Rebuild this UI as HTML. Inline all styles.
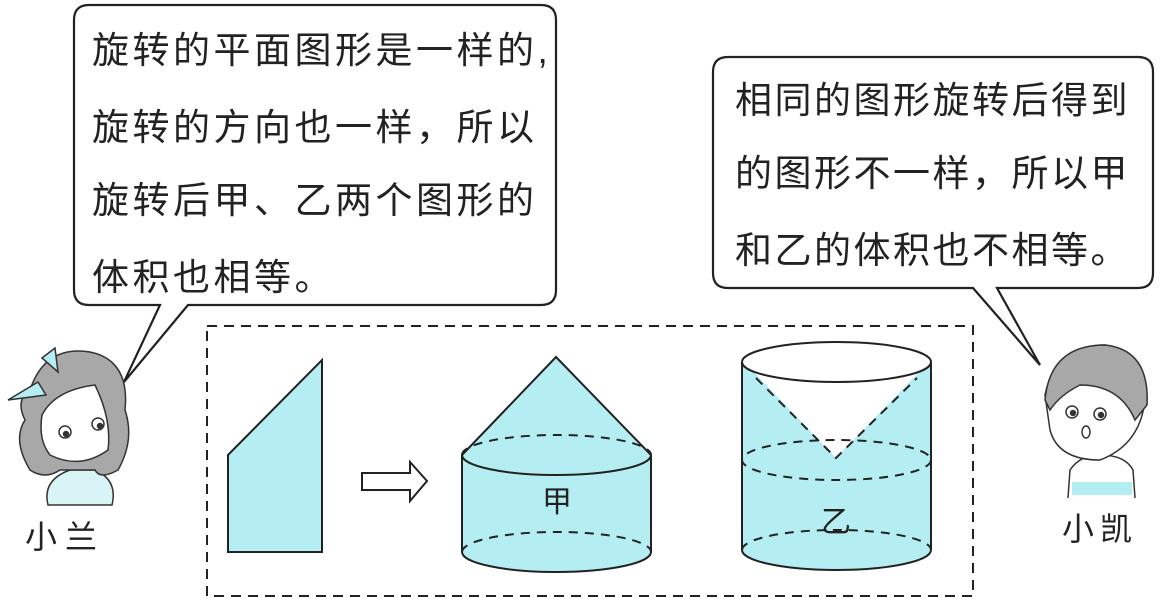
<!DOCTYPE html>
<html><head><meta charset="utf-8"><style>
html,body{margin:0;padding:0;background:#fff;}
svg{display:block;}
text{font-family:"Liberation Sans","Noto Sans CJK SC",sans-serif;fill:#222;}
</style></head><body>
<svg width="1162" height="602" viewBox="0 0 1162 602" xmlns="http://www.w3.org/2000/svg">
<!-- left bubble -->
<path d="M89,5 H541 Q556,5 556,20 V290 Q556,305 541,305 H188 L124,382 L160,305 H89 Q74,305 74,290 V20 Q74,5 89,5 Z" fill="#fff" stroke="#222" stroke-width="2.2"/>
<g font-size="37" letter-spacing="3.5">
<text x="92" y="63">旋转的平面图形是一样的,</text>
<text x="92" y="140">旋转的方向也一样，所以</text>
<text x="92" y="213">旋转后甲、乙两个图形的</text>
<text x="92" y="290">体积也相等。</text>
</g>
<!-- right bubble -->
<path d="M728,57 H1138 Q1153,57 1153,72 V273 Q1153,288 1138,288 H997 L1040,365 L973,288 H728 Q713,288 713,273 V72 Q713,57 728,57 Z" fill="#fff" stroke="#222" stroke-width="2.2"/>
<g font-size="37" letter-spacing="2.5">
<text x="735" y="113">相同的图形旋转后得到</text>
<text x="735" y="186">的图形不一样，所以甲</text>
<text x="735" y="263">和乙的体积也不相等。</text>
</g>
<!-- dashed box -->
<rect x="207" y="326" width="766" height="270" fill="none" stroke="#222" stroke-width="2" stroke-dasharray="10,7"/>
<!-- trapezoid -->
<polygon points="228,455 322,360 322,552 228,552" fill="#b5eef2" stroke="#222" stroke-width="2"/>
<!-- arrow -->
<polygon points="362,473 410,473 410,462 427,481 410,501 410,490 362,490" fill="#fff" stroke="#222" stroke-width="2"/>
<!-- jia -->
<path d="M462,455 L556,357 L651,455 V552 A94.5,20 0 0 1 462,552 Z" fill="#b5eef2" stroke="#222" stroke-width="2"/>
<path d="M462,455 A94.5,20 0 0 0 651,455" fill="none" stroke="#222" stroke-width="2"/>
<path d="M462,455 A94.5,20 0 0 1 651,455" fill="none" stroke="#222" stroke-width="2" stroke-dasharray="9,7"/>
<path d="M462,552 A94.5,20 0 0 1 651,552" fill="none" stroke="#222" stroke-width="2" stroke-dasharray="9,7"/>
<text x="557" y="512" font-size="30" text-anchor="middle">甲</text>
<!-- yi -->
<path d="M742,362 V550 A94.5,20 0 0 0 931,550 V362 A94.5,20 0 0 1 742,362 Z" fill="#b5eef2" stroke="#222" stroke-width="2"/>
<path d="M752,370 L836,458 L921,370 A94.5,20 0 0 1 752,370 Z" fill="#fff"/>
<ellipse cx="836.5" cy="362" rx="94.5" ry="20" fill="#fff" stroke="#222" stroke-width="2"/>
<path d="M756,378 L836,458 L917,378" fill="none" stroke="#222" stroke-width="2" stroke-dasharray="9,7"/>
<ellipse cx="836.5" cy="460" rx="94.5" ry="20" fill="none" stroke="#222" stroke-width="2" stroke-dasharray="9,7"/>
<path d="M742,550 A94.5,20 0 0 1 931,550" fill="none" stroke="#222" stroke-width="2" stroke-dasharray="9,7"/>
<text x="836" y="532" font-size="30" text-anchor="middle">乙</text>
<!-- girl -->
<g stroke="#333" stroke-width="1.5">
<path d="M48,505 Q42,480 70,470 L95,470 Q118,480 112,505 Z" fill="#d8f4f6"/>
<path d="M30,390 Q45,345 90,352 Q130,360 125,410 Q135,440 118,470 Q100,480 95,470 L60,470 Q45,480 30,470 Q12,440 25,420 Q15,400 30,390 Z" fill="#a8a8a8"/>
<path d="M42,415 Q55,390 95,385 Q112,420 108,450 Q80,470 50,455 Q38,440 42,415 Z" fill="#fff"/>
<path d="M8,400 L38,382 L46,395 Z M42,358 L55,348 L58,372 Z" fill="#b5eef2"/>
<circle cx="65" cy="432" r="6" fill="#fff"/><circle cx="98" cy="424" r="6" fill="#fff"/>
<circle cx="66" cy="434" r="2.5" fill="#333"/><circle cx="100" cy="426" r="2.5" fill="#333"/>
</g>
<text x="65" y="548" font-size="32" text-anchor="middle" letter-spacing="8">小兰</text>
<!-- boy -->
<g stroke="#333" stroke-width="1.5">
<path d="M1068,498 L1070,470 Q1080,455 1100,455 Q1125,455 1133,470 L1135,498" fill="#fff"/>
<rect x="1072" y="482" width="60" height="13" fill="#b5eef2" stroke="none"/>
<path d="M1045,395 Q1055,345 1105,345 Q1148,355 1145,400 Q1140,445 1100,460 Q1058,460 1050,430 Z" fill="#fff"/>
<path d="M1045,400 Q1050,345 1105,345 Q1150,350 1147,405 L1135,420 Q1120,385 1080,385 Q1060,395 1050,410 Z" fill="#a8a8a8"/>
<circle cx="1072" cy="412" r="6" fill="#fff"/><circle cx="1100" cy="414" r="6" fill="#fff"/>
<circle cx="1073" cy="413" r="2.5" fill="#333"/><circle cx="1101" cy="415" r="2.5" fill="#333"/>
<ellipse cx="1086" cy="432" rx="4" ry="6" fill="#fff"/>
</g>
<text x="1100" y="540" font-size="32" text-anchor="middle" letter-spacing="6">小凯</text>
</svg>
</body></html>
